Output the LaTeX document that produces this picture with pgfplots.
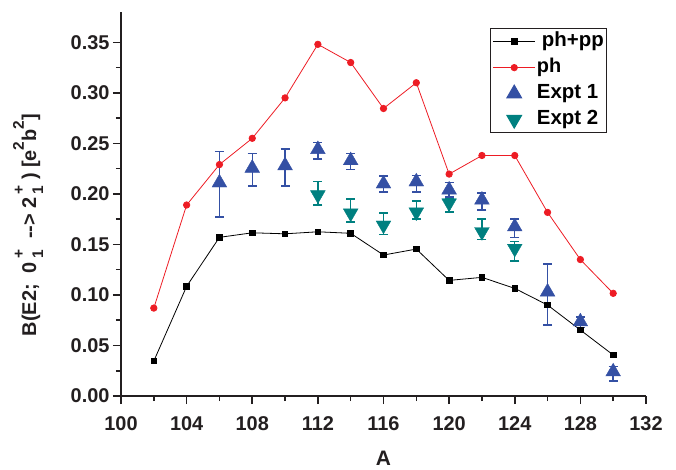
\documentclass[border=0pt]{standalone}
\usepackage{pgfplots}
\pgfplotsset{compat=1.18}
\usepackage{pgfplotstable}
\usepackage{fontspec}
\setmainfont{Liberation Sans}
\definecolor{myred}{RGB}{237,28,36}
\definecolor{myblue}{RGB}{52,80,164}
\definecolor{myteal}{RGB}{0,128,128}
\definecolor{axcol}{RGB}{35,31,32}
\newcommand\supsub[2]{\,\rlap{\raisebox{0.62em}{\fontsize{15.5}{15}\selectfont #1}}\raisebox{-0.35em}{\fontsize{15.5}{15}\selectfont #2}}
\newcommand\sups[1]{\raisebox{0.62em}{\fontsize{15.5}{15}\selectfont #1}}

\pgfplotstableread{
x y
102 0.0346
104 0.1085
106 0.157
108 0.1615
110 0.1605
112 0.1625
114 0.161
116 0.1395
118 0.1454
120 0.1144
122 0.1174
124 0.1065
126 0.090
128 0.0653
130 0.0406
}\phpp
\pgfplotstableread{
x y
102 0.087
104 0.189
106 0.229
108 0.255
110 0.295
112 0.348
114 0.330
116 0.2845
118 0.310
120 0.2196
122 0.238
124 0.238
126 0.1817
128 0.135
130 0.1016
}\ph
\pgfplotstableread{
x y ep em
106 0.211 0.031 0.034
108 0.2255 0.0145 0.0175
110 0.228 0.0166 0.020
112 0.244 0.0066 0.0096
114 0.233 0.007 0.009
116 0.210 0.0076 0.008
118 0.212 0.006 0.010
120 0.204 0.007 0.007
122 0.194 0.007 0.010
124 0.1675 0.0075 0.0105
126 0.103 0.0276 0.0328
128 0.0735 0.0045 0.0055
130 0.024 0.005 0.009
}\exptone
\pgfplotstableread{
x y ep em
112 0.199 0.013 0.010
114 0.181 0.014 0.009
116 0.169 0.012 0.009
118 0.182 0.011 0.007
120 0.191 0.0045 0.009
122 0.1625 0.0125 0.0075
124 0.146 0.007 0.0125
}\expttwo

\pgfplotsset{
  mylegimg/.style={legend image code/.code={\draw[mark repeat=2,mark phase=2,##1] plot coordinates {(0cm,0cm)(0.75cm,0cm)(1.5cm,0cm)};}},
}

\begin{document}
\begin{tikzpicture}
\begin{axis}[
  scale only axis,
  width=525bp, height=384bp,
  xmin=100, xmax=132, ymin=0, ymax=0.38,
  axis x line*=bottom, axis y line*=left,
  axis line style={-, line width=1.6bp, color=axcol},
  xtick={100,104,...,132},
  ytick={0,0.05,0.1,0.15,0.2,0.25,0.3,0.35},
  minor x tick num=1, minor y tick num=1,
  tick align=outside,
  major tick length=8bp, minor tick length=5bp,
  tick style={line width=1.6bp, color=axcol},
  every tick/.style={line width=1.6bp, color=axcol},
  yticklabel style={/pgf/number format/.cd, fixed, fixed zerofill, precision=2},
  /pgf/number format/assume math mode=true,
  ticklabel style={font=\fontsize{20}{22}\selectfont\bfseries, color=axcol},
  xticklabel style={yshift=-9bp},
  xlabel={A},
  xlabel style={font=\fontsize{21}{24}\selectfont\bfseries, at={(axis description cs:0.5,-0.163)}, anchor=center, color=axcol},
  ylabel={B(E2;\ \ 0\supsub{+}{1}\ \ -{}-{}> 2\supsub{+}{1}\ ) [e\sups{2}b\sups{2}]},
  ylabel style={font=\fontsize{20}{22}\selectfont\bfseries, at={(axis description cs:-0.177,0.445)}, anchor=center, color=axcol},
  legend cell align=left,
  legend style={at={(axis description cs:0.703,0.958)}, anchor=north west,
    draw=axcol, line width=1bp, inner xsep=2bp, inner ysep=3bp, row sep=6bp,
    nodes={inner sep=1bp, text height=14bp, text depth=4bp, font=\bfseries}},
  mylegimg,
]
\coordinate (bl) at (rel axis cs:0,0);
\addplot[color=black, line width=0.8bp, mark=square*, mark size=2.8bp, mark options={solid}, mylegimg] table[x=x,y=y] {\phpp};
\addlegendentry{\fontsize{20.5}{20}\selectfont\hspace{5bp}ph+pp}
\addplot[color=myred, line width=0.8bp, mark=*, mark size=3.2bp, mylegimg] table[x=x,y=y] {\ph};
\addlegendentry{\fontsize{20}{20}\selectfont ph}
\addplot[only marks, color=myblue, mark=triangle*, mark size=8.5bp,
  error bars/.cd, y dir=both, y explicit,
  error bar style={line width=1.4bp, color=myblue},
  error mark options={rotate=90, mark size=4.5bp, line width=1.4bp, color=myblue}]
  table[x=x,y=y,y error plus=ep,y error minus=em] {\exptone};
\addlegendentry{\fontsize{20.5}{20}\selectfont Expt 1}
\addplot[only marks, color=myteal, mark=triangle*, mark size=8.5bp, mark options={rotate=180},
  error bars/.cd, y dir=both, y explicit,
  error bar style={line width=1.4bp, color=myteal},
  error mark options={rotate=90, mark size=4.5bp, line width=1.4bp, color=myteal}]
  table[x=x,y=y,y error plus=ep,y error minus=em] {\expttwo};
\addlegendentry{\fontsize{20.5}{20}\selectfont Expt 2}
\end{axis}
\pgfresetboundingbox
\path[use as bounding box] ([shift={(-121bp,-74bp)}]bl) rectangle ([shift={(555bp,396bp)}]bl);
\end{tikzpicture}
\end{document}
